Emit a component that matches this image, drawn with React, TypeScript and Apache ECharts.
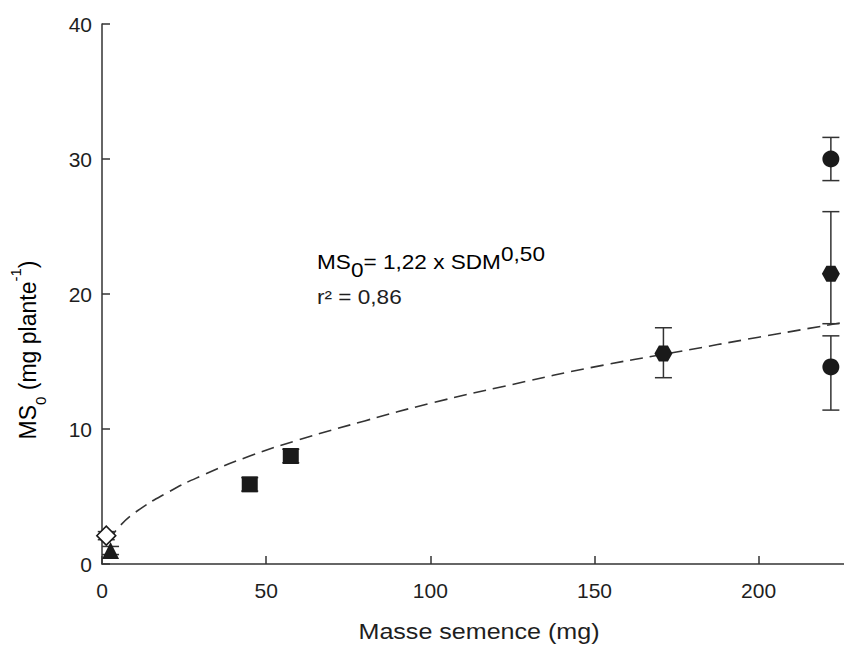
import React, { useEffect, useRef } from "react";
import * as echarts from "echarts";

// ---- data ----
const circleX = [222, 222];
const circleY = [30.0, 14.6];
const circleLo = [28.4, 11.4];
const circleHi = [31.6, 16.9];

const hexX = [171, 222];
const hexY = [15.6, 21.5];
const hexLo = [13.8, 17.8];
const hexHi = [17.5, 26.1];

const squareX = [45, 57.5];
const squareY = [5.9, 8.0];
const squareLo = [5.4, 7.5];
const squareHi = [6.4, 8.5];

const diamondX = [1.3];
const diamondY = [2.1];
const diamondLo = [1.8];
const diamondHi = [2.4];

const triangleX = [2.6];
const triangleY = [1.0];
const triangleLo = [0.7];
const triangleHi = [1.3];

// fitted curve
const curveX = [2, 5, 10, 20, 30, 45, 60, 80, 100, 125, 150, 175, 200, 226];
const curveY = [1.7, 2.7, 3.8, 5.3, 6.5, 8.0, 9.2, 10.6, 11.9, 13.3, 14.6, 15.7, 16.8, 17.9];

const xTicks = [0, 50, 100, 150, 200];
const yTicks = [0, 10, 20, 30, 40];

const INK = "#1a1a1a";
const LINE = "#333333";
const TEXT = "#1e1e1e";
const FONT = "'Liberation Sans', Arial, Helvetica, sans-serif";

const hexPath = "path://M-1,0 L-0.5,-0.866 L0.5,-0.866 L1,0 L0.5,0.866 L-0.5,0.866 Z";

function zip(xs: number[], ys: number[]) {
  return xs.map((x, i) => [x, ys[i]]);
}

export default function App() {
  const ref = useRef<HTMLDivElement>(null);

  useEffect(() => {
    if (!ref.current) return;
    const chart = echarts.init(ref.current, null, { renderer: "svg" });

    const errData: number[][] = [];
    const addErr = (xs: number[], lo: number[], hi: number[]) =>
      xs.forEach((x, i) => errData.push([x, lo[i], hi[i]]));
    addErr(circleX, circleLo, circleHi);
    addErr(hexX, hexLo, hexHi);
    addErr(squareX, squareLo, squareHi);
    addErr(diamondX, diamondLo, diamondHi);
    addErr(triangleX, triangleLo, triangleHi);

    const rich = {
      a: { fontSize: 20, fontFamily: FONT, color: TEXT, lineHeight: 36, verticalAlign: "middle" },
      sub: { fontSize: 20, fontFamily: FONT, color: TEXT, lineHeight: 21, verticalAlign: "bottom" },
      sup: { fontSize: 20, fontFamily: FONT, color: TEXT, lineHeight: 14, verticalAlign: "top" },
    };
    const richY = {
      a: { fontSize: 23, fontFamily: FONT, color: TEXT, lineHeight: 40, verticalAlign: "middle" },
      sub: { fontSize: 15, fontFamily: FONT, color: TEXT, lineHeight: 13, verticalAlign: "bottom" },
      sup: { fontSize: 15, fontFamily: FONT, color: TEXT, lineHeight: 13, verticalAlign: "top" },
    };
    const scatterBase = { type: "scatter", z: 3, itemStyle: { color: INK, opacity: 1 } };

    chart.setOption({
      animation: false,
      backgroundColor: "#ffffff",
      grid: { left: 102, right: 0, top: 24, bottom: 82, containLabel: false },
      xAxis: {
        type: "value",
        min: 0,
        max: 226,
        interval: 50,
        axisLine: { show: true, lineStyle: { color: LINE, width: 1.5 } },
        axisTick: { show: true, inside: true, length: 8, lineStyle: { color: LINE, width: 1.5 }, customValues: xTicks },
        axisLabel: { fontSize: 21, fontFamily: FONT, color: TEXT, margin: 16, customValues: xTicks },
        splitLine: { show: false },
      },
      yAxis: {
        type: "value",
        min: 0,
        max: 40,
        interval: 10,
        axisLine: { show: true, lineStyle: { color: LINE, width: 1.5 } },
        axisTick: { show: true, inside: true, length: 8, lineStyle: { color: LINE, width: 1.5 }, customValues: yTicks },
        axisLabel: { fontSize: 21, fontFamily: FONT, color: TEXT, margin: 10, customValues: yTicks },
        splitLine: { show: false },
      },
      series: [
        {
          type: "line",
          data: zip(curveX, curveY),
          smooth: true,
          showSymbol: false,
          symbol: "none",
          lineStyle: { color: LINE, width: 1.6, type: [13, 7] },
          z: 1,
          silent: true,
        },
        {
          type: "custom",
          data: errData,
          z: 2,
          renderItem: (params: any, api: any) => {
            const x = api.value(0);
            const top = api.coord([x, api.value(2)]);
            const bot = api.coord([x, api.value(1)]);
            const hw = 8.5;
            const st = { stroke: LINE, lineWidth: 1.5 };
            return {
              type: "group",
              children: [
                { type: "line", shape: { x1: top[0], y1: top[1], x2: bot[0], y2: bot[1] }, style: st },
                { type: "line", shape: { x1: top[0] - hw, y1: top[1], x2: top[0] + hw, y2: top[1] }, style: st },
                { type: "line", shape: { x1: bot[0] - hw, y1: bot[1], x2: bot[0] + hw, y2: bot[1] }, style: st },
              ],
            };
          },
        },
        { ...scatterBase, data: zip(circleX, circleY), symbol: "circle", symbolSize: 17 },
        { ...scatterBase, data: zip(hexX, hexY), symbol: hexPath, symbolSize: [18, 16] },
        { ...scatterBase, data: zip(squareX, squareY), symbol: "rect", symbolSize: 16 },
        { ...scatterBase, data: zip(triangleX, triangleY), symbol: "triangle", symbolSize: 17 },
        {
          type: "scatter",
          data: zip(diamondX, diamondY),
          symbol: "diamond",
          symbolSize: 19,
          itemStyle: { color: "#ffffff", borderColor: INK, borderWidth: 1.5, opacity: 1 },
          z: 4,
        },
      ],
      graphic: [
        {
          type: "text",
          x: 317,
          y: 262,
          scaleX: 1.13,
          style: {
            text: "{a|MS}{sub|0}{a|= 1,22 x SDM}{sup|0,50}",
            rich,
            align: "left",
            verticalAlign: "middle",
          },
        },
        {
          type: "text",
          x: 317,
          y: 297,
          scaleX: 1.13,
          style: {
            text: "r² = 0,86",
            fontSize: 20,
            fontFamily: FONT,
            fill: TEXT,
            align: "left",
            verticalAlign: "middle",
          },
        },
        {
          type: "text",
          x: 479,
          y: 632,
          scaleX: 1.14,
          style: {
            text: "Masse semence (mg)",
            fontSize: 22,
            fontFamily: FONT,
            fill: TEXT,
            align: "center",
            verticalAlign: "middle",
          },
        },
        {
          type: "text",
          x: 28,
          y: 350,
          rotation: Math.PI / 2,
          style: {
            text: "{a|MS}{sub|0}{a| (mg plante}{sup|-1}{a|)}",
            rich: richY,
            align: "center",
            verticalAlign: "middle",
          },
        },
      ],
    });

    return () => chart.dispose();
  }, []);

  return (
    <div
      ref={ref}
      style={{ position: "absolute", left: 0, top: 0, width: 844, height: 646 }}
    />
  );
}
